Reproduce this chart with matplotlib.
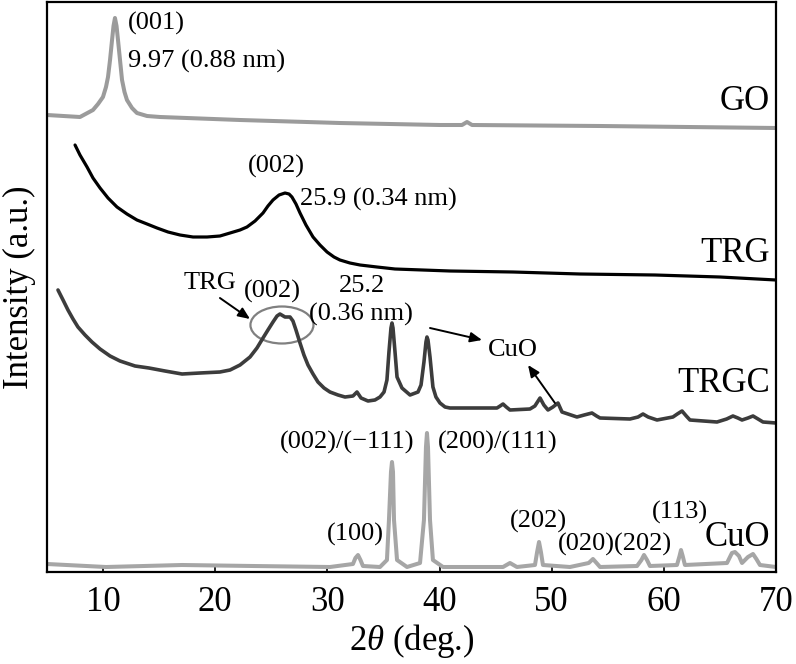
import matplotlib
matplotlib.use("Agg")
import matplotlib.pyplot as plt
from matplotlib.patches import Ellipse

plt.rcParams['font.family'] = ['Liberation Serif', 'DejaVu Serif']
plt.rcParams['mathtext.fontset'] = 'custom'
plt.rcParams['mathtext.it'] = 'Liberation Serif:italic'
plt.rcParams['mathtext.rm'] = 'Liberation Serif'

# ---- data (2theta in degrees, intensity in arbitrary units incl. vertical offset) ----
go_x = [5.00, 7.94, 9.10, 9.55, 9.99, 10.26, 10.44, 10.62, 10.80, 10.93, 11.06, 11.20,
        11.33, 11.51, 11.69, 11.91, 12.13, 12.58, 13.02, 13.92, 15.08, 22.21, 31.12,
        40.04, 42.00, 42.45, 42.90, 54.31, 70.00]
go_y = [457, 455, 462, 468, 475, 485, 495, 512, 532, 546, 554, 546,
        532, 512, 492, 480, 472, 464, 459, 456, 455, 452, 449,
        447, 447, 450, 447, 446, 444]

trg_x = [7.50, 7.94, 8.57, 9.10, 9.73, 10.44, 11.24, 12.13, 13.02, 13.92, 14.81, 15.79,
         16.86, 18.02, 19.27, 20.42, 21.32, 22.21, 22.83, 23.55, 24.26, 24.70, 25.15, 25.69,
         26.22, 26.58, 26.84, 27.20, 27.56, 28.09, 28.72, 29.34, 29.97, 30.59, 31.12, 32.01,
         32.91, 34.42, 36.03, 40.93, 46.55, 52.52, 59.21, 65.00, 70.00]
trg_y = [427, 417, 405, 394, 384, 374, 365, 358, 352, 348, 344, 340,
         337, 335, 335, 336, 339, 342, 345, 351, 359, 366, 372, 377,
         379, 378, 375, 368, 359, 347, 335, 327, 320, 315, 312, 309,
         307, 305, 303, 301, 300, 298, 297, 295, 292]

trgc_x = [5.98, 6.43, 6.87, 7.32, 7.76, 8.39, 9.01, 9.73, 10.62, 11.51, 12.85, 14.09,
          15.52, 17.04, 18.64, 20.42, 21.32, 22.21, 23.10, 23.72, 24.26, 24.70, 25.15, 25.51,
          25.77, 26.22, 26.67, 26.93, 27.20, 27.56, 27.91, 28.27, 28.72, 29.16, 29.70, 30.23,
          30.95, 31.57, 32.28, 32.64, 33.00, 33.62, 34.24, 34.69, 35.05, 35.31, 35.49, 35.67,
          35.76, 35.85, 36.03, 36.21, 36.65, 37.37, 38.08, 38.35, 38.61, 38.79, 38.88, 38.97,
          39.15, 39.41, 39.68, 40.04, 40.49, 40.93, 43.61, 45.12, 45.40, 45.66, 45.95, 46.28,
          48.06, 48.50, 48.96, 49.30, 49.67, 50.11, 50.56, 50.92, 52.25, 52.90, 53.59, 54.00,
          54.31, 56.98, 57.70, 58.14, 58.60, 59.39, 60.81, 61.20, 61.62, 62.00, 62.33, 64.74,
          65.60, 66.16, 66.60, 66.97, 67.50, 67.95, 68.40, 68.84, 70.00]
trgc_y = [282, 272, 262, 253, 245, 237, 230, 223, 216, 211, 206, 204,
          201, 198, 199, 200, 202, 207, 215, 224, 234, 242, 250, 256,
          258, 255, 255, 251, 242, 229, 217, 207, 198, 190, 184, 180,
          177, 175, 176, 180, 174, 171, 172, 175, 180, 192, 220, 244,
          249, 244, 220, 195, 184, 177, 180, 187, 210, 230, 235, 232,
          215, 185, 175, 169, 165, 164, 164, 164, 166, 168, 165, 162,
          163, 166, 174, 167, 162, 165, 169, 160, 155, 157, 159, 156,
          154, 153, 155, 158, 155, 152, 155, 158, 161, 156, 152, 150,
          153, 156, 154, 152, 154, 156, 153, 150, 149]

cuo_x = [5.00, 10.26, 17.04, 23.37, 30.23, 32.28, 32.50, 32.73, 32.95, 33.17, 34.69, 35.31,
         35.49, 35.67, 35.76, 35.85, 35.94, 36.21, 37.10, 38.26, 38.61, 38.79, 38.88, 38.97,
         39.15, 39.41, 40.31, 45.66, 46.28, 46.90, 48.51, 48.70, 48.87, 49.04, 49.22, 51.63,
         53.30, 53.68, 54.00, 54.31, 57.61, 58.00, 58.23, 58.50, 58.76, 61.17, 61.40, 61.53,
         61.68, 61.88, 65.63, 66.07, 66.34, 66.70, 66.97, 67.50, 67.95, 68.25, 68.57, 70.00]
cuo_y = [8, 5, 7, 6, 5, 8, 14, 17, 12, 6, 5, 12,
         52, 100, 110, 100, 52, 12, 5, 9, 52, 125, 139, 125,
         52, 12, 5, 5, 9, 5, 7, 20, 30, 20, 7, 5,
         9, 13, 9, 5, 6, 12, 17, 12, 6, 7, 16, 22,
         16, 7, 9, 19, 20, 16, 9, 15, 18, 13, 7, 5]

x_ticks = [10, 20, 30, 40, 50, 60, 70]

fig = plt.figure(figsize=(7.96, 6.64), dpi=100)
ax = fig.add_axes([47/796, 92/664, 729/796, 570/664])

kw = dict(solid_joinstyle='round', solid_capstyle='round')
ax.plot(go_x, go_y, color='#9b9b9b', lw=2.9, **kw)
ax.plot(trg_x, trg_y, color='#000000', lw=2.3, **kw)
ax.plot(trgc_x, trgc_y, color='#3c3c3c', lw=2.6, **kw)
ax.plot(cuo_x, cuo_y, color='#a6a6a6', lw=2.9, **kw)

ax.set_xlim(5, 70)
ax.set_ylim(0, 570)
ax.set_xticks(x_ticks)
ax.set_yticks([])
ax.tick_params(axis='x', direction='in', length=5, width=1.2, labelsize=25, pad=10)
for s in ax.spines.values():
    s.set_linewidth(1.6)

ax.set_xlabel(r'2$\mathit{\theta}$ (deg.)', fontsize=25, labelpad=2)
ax.set_ylabel('Intensity (a.u.)', fontsize=25, labelpad=8)

fs = 19
big = 25
ax.text(12.22, 549, '(001)', fontsize=fs, ha='left', va='center')
ax.text(12.22, 511, '9.97 (0.88 nm)', fontsize=fs, ha='left', va='center')
ax.text(69.46, 471, 'GO', fontsize=big, ha='right', va='center')

ax.text(25.42, 406, '(002)', fontsize=fs, ha='center', va='center')
ax.text(27.56, 373, '25.9 (0.34 nm)', fontsize=fs, ha='left', va='center')
ax.text(69.46, 319, 'TRG', fontsize=big, ha='right', va='center')

ax.text(19.53, 289, 'TRG', fontsize=fs, ha='center', va='center')
ax.text(25.06, 281, '(002)', fontsize=fs, ha='center', va='center')
ax.text(33.09, 286, '25.2', fontsize=fs, ha='center', va='center')
ax.text(33.0, 258, '(0.36 nm)', fontsize=fs, ha='center', va='center')
ax.text(46.55, 222, 'CuO', fontsize=fs, ha='center', va='center')
ax.text(69.46, 189, 'TRGC', fontsize=big, ha='right', va='center')

ax.add_patch(Ellipse((25.95, 247), 5.62, 37, fill=False, edgecolor='#808080', lw=1.6))
arrow = dict(arrowstyle='-|>,head_length=0.7,head_width=0.3', color='black', lw=1.4,
             shrinkA=0, shrinkB=0)
ax.annotate('', xy=(23.10, 253), xytext=(20.42, 274), arrowprops=arrow)
ax.annotate('', xy=(43.79, 232), xytext=(39.15, 244), arrowprops=arrow)
ax.annotate('', xy=(47.89, 207), xytext=(50.29, 169), arrowprops=arrow)

ax.text(31.75, 130, '(002)/(\u2212111)', fontsize=fs, ha='center', va='center')
ax.text(45.21, 130, '(200)/(111)', fontsize=fs, ha='center', va='center')
ax.text(32.46, 38, '(100)', fontsize=fs, ha='center', va='center')
ax.text(48.78, 51, '(202)', fontsize=fs, ha='center', va='center')
ax.text(55.64, 28, '(020)(202)', fontsize=fs, ha='center', va='center')
ax.text(61.44, 60, '(113)', fontsize=fs, ha='center', va='center')
ax.text(66.52, 34, 'CuO', fontsize=big, ha='center', va='center')

fig.savefig('out.png', dpi=100)
